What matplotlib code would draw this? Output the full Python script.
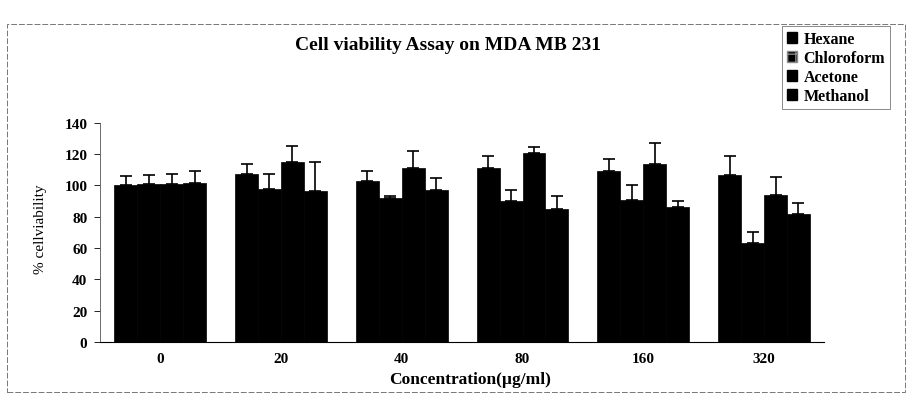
import matplotlib
matplotlib.use("Agg")
import matplotlib.pyplot as plt
import numpy as np
from matplotlib.patches import Patch, Rectangle

# data
concentrations = ["0", "20", "40", "80", "160", "320"]
solvents = ["Hexane", "Chloroform", "Acetone", "Methanol"]
hexane = [100.5, 107.5, 103, 111, 109, 107]
hexane_err = [5.5, 6, 6, 8, 8, 12]
chloroform = [101, 98, 92, 90, 91, 63]
chloroform_err = [5.5, 9.5, 1, 7, 9, 7]
acetone = [101, 115, 111, 120.5, 114, 94]
acetone_err = [6.5, 10, 11, 4, 13, 11.5]
methanol = [101.5, 96.5, 97, 85, 86, 82]
methanol_err = [8, 18.5, 8, 8.5, 4, 6.5]

series = [hexane, chloroform, acetone, methanol]
errors = [hexane_err, chloroform_err, acetone_err, methanol_err]

plt.rcParams['font.family'] = ['Liberation Serif', 'DejaVu Serif']

fig = plt.figure(figsize=(9.07, 4.06), dpi=100)
ax = fig.add_axes([0.110, 0.155, 0.799, 0.540])

x = np.arange(len(concentrations))
width = 0.19
for k, (vals, err) in enumerate(zip(series, errors)):
    pos = x + (k - 1.5) * width
    ax.bar(pos, vals, width=width, color='black', edgecolor='black', linewidth=0.5)
    ax.errorbar(pos, vals, yerr=[np.zeros(len(err)), err], fmt='none',
                ecolor='black', elinewidth=1.2, capsize=4, capthick=1.2)

ax.set_xlim(-0.5, len(concentrations) - 0.5)
ax.set_ylim(0, 140)
ax.set_yticks(range(0, 141, 20))
ax.set_xticks(x)
ax.set_xticklabels(concentrations, fontweight='bold', fontsize=11)
for lab in ax.get_yticklabels():
    lab.set_fontweight('bold')
    lab.set_fontsize(11)
ax.tick_params(axis='x', length=0, pad=7)
ax.tick_params(axis='y', length=4, width=0.6, pad=5)
ax.spines['top'].set_visible(False)
ax.spines['right'].set_visible(False)
ax.spines['left'].set_linewidth(0.6)
ax.spines['left'].set_color('#555555')
ax.spines['bottom'].set_linewidth(0.8)

fig.text(0.494, 0.889, "Cell viability Assay on MDA MB 231", ha='center', va='center',
         fontsize=14, fontweight='bold')
fig.text(0.518, 0.064, "Concentration(\u00b5g/ml)", ha='center', va='center',
         fontsize=12.5, fontweight='bold')
fig.text(0.045, 0.436, "% cellviability", ha='center', va='center', rotation=90,
         fontsize=11)

handles = [Patch(facecolor='black', edgecolor='black'),
           Patch(facecolor='black', edgecolor='#888888', hatch='++'),
           Patch(facecolor='black', edgecolor='black'),
           Patch(facecolor='black', edgecolor='black')]
leg = fig.legend(handles, solvents, loc='upper left', bbox_to_anchor=(782 / 907, 1 - 27 / 406),
                 frameon=True, fancybox=False, edgecolor='#555555',
                 prop={'weight': 'bold', 'size': 11.5},
                 handlelength=0.65, handleheight=0.65, handletextpad=0.4,
                 labelspacing=0.2, borderpad=0.3, borderaxespad=0)
leg.get_frame().set_linewidth(0.6)

# outer border of the scanned chart area
fig.patches.append(Rectangle((7 / 907, 1 - 393 / 406), 898 / 907, 368 / 406,
                             transform=fig.transFigure, fill=False,
                             edgecolor='#777777', linewidth=0.7, linestyle=(0, (6, 2))))

fig.savefig("out.png", dpi=100)
